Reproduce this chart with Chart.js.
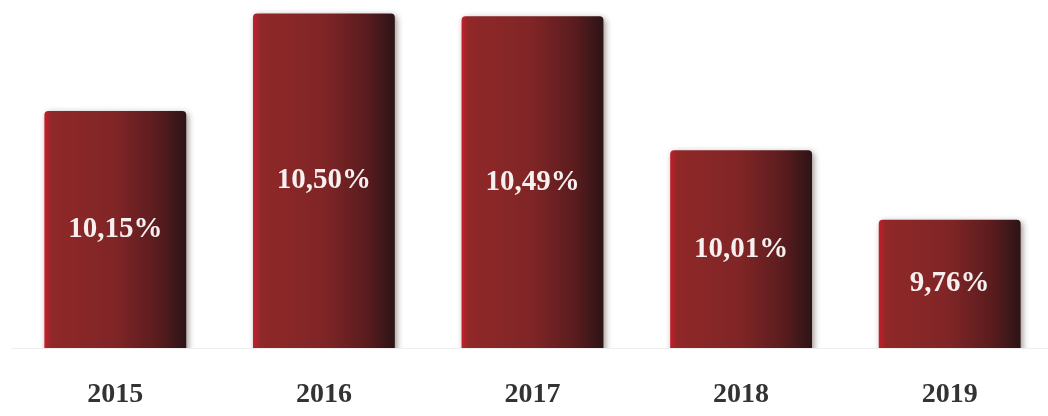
<!DOCTYPE html>
<html>
<head>
<meta charset="utf-8">
<script src="https://cdn.jsdelivr.net/npm/chart.js@4"></script>
<style>
  html, body { margin: 0; padding: 0; background: #fff; overflow: hidden; }
  #wrap { position: relative; width: 1056px; height: 416px; }
</style>
</head>
<body>
<div id="wrap"><canvas id="chart" width="1056" height="416"></canvas></div>
<script>
// data
const years = ['2015', '2016', '2017', '2018', '2019'];
const rates = [10.15, 10.50, 10.49, 10.01, 9.76];
const rateLabels = ['10,15%', '10,50%', '10,49%', '10,01%', '9,76%'];

const BAR_PCT = 0.68;
const SERIF = '"Liberation Serif", "Times New Roman", serif';

// horizontal gradient, bright edge on the left, dark on the right
function barGradient(context) {
    const chart = context.chart;
    const xScale = chart.scales.x;
    if (!xScale || !chart.chartArea) return '#7e2424';
    const cx = xScale.getPixelForValue(context.dataIndex);
    const w = (xScale.width / years.length) * BAR_PCT;
    const g = chart.ctx.createLinearGradient(cx - w / 2, 0, cx + w / 2, 0);
    g.addColorStop(0, '#c41e2c');
    g.addColorStop(0.05, '#902828');
    g.addColorStop(0.5, '#802526');
    g.addColorStop(0.8, '#5a1c1e');
    g.addColorStop(1, '#2c1416');
    return g;
}

// percentage text in the middle of each bar
function drawValueLabels(chart) {
    const ctx = chart.ctx;
    const xs = chart.scales.x, ys = chart.scales.y;
    ctx.save();
    ctx.shadowColor = 'transparent';
    ctx.font = 'bold 29px ' + SERIF;
    ctx.fillStyle = '#f6f0f0';
    ctx.textAlign = 'center';
    ctx.textBaseline = 'middle';
    for (let i = 0; i < rates.length; i++) {
        const x = xs.getPixelForValue(i);
        const top = ys.getPixelForValue(rates[i]);
        const base = ys.getPixelForValue(ys.min);
        ctx.fillText(rateLabels[i], x, (top + base) / 2);
    }
    ctx.restore();
}

const barShadow = {
    id: 'barShadow',
    beforeDatasetsDraw(chart) {
        const ctx = chart.ctx;
        ctx.save();
        ctx.shadowColor = 'rgba(40,10,10,0.45)';
        ctx.shadowBlur = 6;
        ctx.shadowOffsetX = 2;
        ctx.shadowOffsetY = 2;
    },
    afterDatasetsDraw(chart) {
        chart.ctx.restore();
        drawValueLabels(chart);
    }
};

const chart = new Chart(document.getElementById('chart'), {
    type: 'bar',
    data: {
        labels: years,
        datasets: [{
            data: rates,
            backgroundColor: barGradient,
            borderRadius: 4,
            borderSkipped: false,
            barPercentage: BAR_PCT,
            categoryPercentage: 1
        }]
    },
    options: {
        responsive: false,
        animation: false,
        layout: { padding: { left: 11, right: 2, top: 8, bottom: 0 } },
        plugins: {
            legend: { display: false },
            tooltip: { enabled: false }
        },
        scales: {
            y: {
                display: false,
                min: 9.3,
                max: 10.52
            },
            x: {
                grid: { display: false },
                border: { display: true, color: '#eeeeee', width: 1 },
                afterFit: function(scale) { scale.height = 68; },
                ticks: {
                    color: '#333333',
                    padding: 22,
                    font: { family: SERIF, size: 28, weight: 'bold' }
                }
            }
        }
    },
    plugins: [barShadow]
});
</script>
</body>
</html>
